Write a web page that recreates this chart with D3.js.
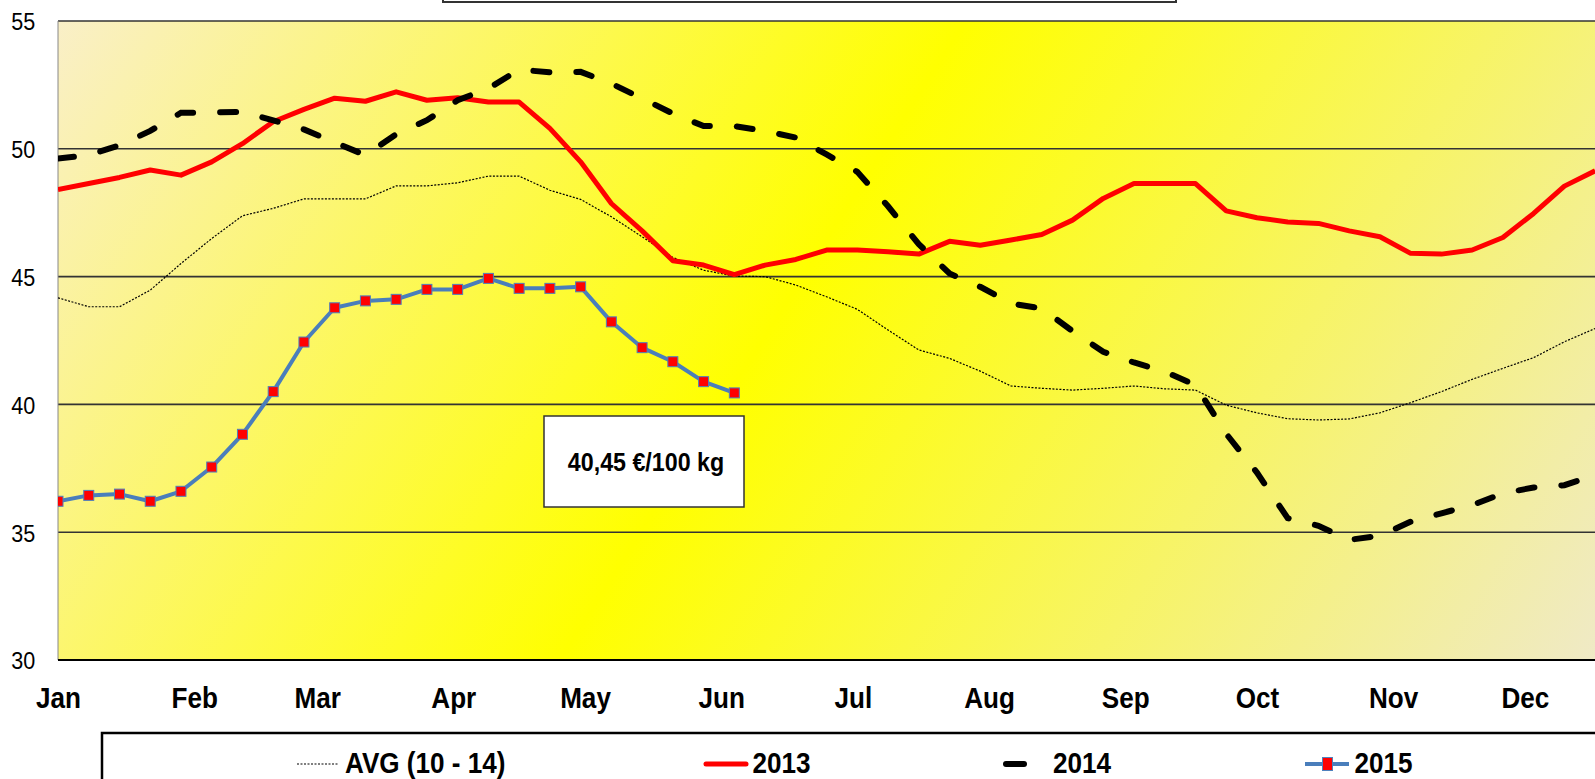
<!DOCTYPE html>
<html>
<head>
<meta charset="utf-8">
<script src="https://cdn.jsdelivr.net/npm/d3@7"></script>
<style>
  body { margin: 0; background: #fff; }
  svg text { font-family: "Liberation Sans", Arial, sans-serif; fill: #000; }
</style>
</head>
<body>
<script>
// weekly prices, week 0 = 1 Jan
const avg = [44.17, 43.82, 43.82, 44.47, 45.51, 46.49, 47.38, 47.67, 48.04, 48.04,
  48.04, 48.55, 48.55, 48.67, 48.93, 48.93, 48.38, 48.02, 47.34, 46.56,
  45.75, 45.25, 45.02, 45.0, 44.67, 44.21, 43.72, 42.91, 42.13, 41.8,
  41.3, 40.72, 40.63, 40.56, 40.63, 40.72, 40.61, 40.56, 39.97, 39.67,
  39.44, 39.39, 39.43, 39.67, 40.07, 40.5, 40.98, 41.41, 41.83, 42.45, 42.97];
const y2013 = [48.41, 48.64, 48.88, 49.17, 48.97, 49.49, 50.2, 51.06, 51.54, 51.98,
  51.86, 52.23, 51.9, 52.0, 51.83, 51.83, 50.8, 49.49, 47.86, 46.79,
  45.62, 45.45, 45.08, 45.45, 45.67, 46.04, 46.04, 45.97, 45.88, 46.38,
  46.23, 46.43, 46.65, 47.21, 48.06, 48.64, 48.64, 48.64, 47.57, 47.3,
  47.14, 47.08, 46.79, 46.56, 45.91, 45.88, 46.04, 46.53, 47.47, 48.54, 49.14];
const y2014 = [49.62, 49.75, 50.14, 50.7, 51.41, 51.42, 51.45, 51.11, 50.76, 50.25,
  49.75, 50.57, 51.12, 51.9, 52.36, 53.1, 52.99, 53.01, 52.55, 51.97,
  51.38, 50.89, 50.89, 50.7, 50.44, 49.78, 49.1, 47.75, 46.27, 45.12,
  44.6, 43.95, 43.75, 42.87, 42.06, 41.64, 41.28, 40.76, 38.85, 37.33,
  35.55, 35.25, 34.7, 34.86, 35.41, 35.74, 36.06, 36.52, 36.75, 36.84, 37.23];
const y2015 = [36.21, 36.44, 36.49, 36.21, 36.6, 37.55, 38.83, 40.5, 42.44, 43.78,
  44.05, 44.11, 44.5, 44.5, 44.93, 44.54, 44.54, 44.6, 43.23, 42.22,
  41.67, 40.89, 40.45];
const seriesNames = ["AVG (10 - 14)", "2013", "2014", "2015"];
const yTicks = [30, 35, 40, 45, 50, 55];
const unit = "€/100 kg";

const W = 1595, H = 779;
const pLeft = 58, pTop = 21, pBottom = 660, pRight = 1661;
const squeeze = "scale(0.9,1)";

const start = new Date(2015, 0, 1);
const x = d3.scaleTime().domain([start, new Date(2016, 0, 1)]).range([pLeft, pRight]);
const y = d3.scaleLinear().domain([30, 55]).range([pBottom, pTop]);
const weekDate = i => d3.timeDay.offset(start, 7 * i);

const svg = d3.select("body").append("svg")
  .attr("width", W)
  .attr("height", H);

const defs = svg.append("defs");
const grad = defs.append("linearGradient")
  .attr("id", "bg")
  .attr("gradientUnits", "userSpaceOnUse")
  .attr("x1", 70).attr("y1", -100)
  .attr("x2", 1523).attr("y2", 822);
grad.append("stop").attr("offset", 0).attr("stop-color", "#f9eed6");
grad.append("stop").attr("offset", 0.477).attr("stop-color", "#ffff00");
grad.append("stop").attr("offset", 1).attr("stop-color", "#efe9cc");

defs.append("clipPath").attr("id", "plotclip")
  .append("rect")
  .attr("x", pLeft).attr("y", pTop)
  .attr("width", pRight - pLeft).attr("height", pBottom - pTop);

// title box (cut off at the top)
svg.append("rect")
  .attr("x", 443).attr("y", -20)
  .attr("width", 733).attr("height", 22)
  .attr("fill", "#fff").attr("stroke", "#333").attr("stroke-width", 2);

// plot background
svg.append("rect")
  .attr("x", pLeft).attr("y", pTop)
  .attr("width", pRight - pLeft).attr("height", pBottom - pTop)
  .attr("fill", "url(#bg)");

// gridlines
svg.append("g").selectAll("line")
  .data(yTicks.filter(d => d > 30))
  .enter().append("line")
  .attr("x1", pLeft).attr("x2", pRight)
  .attr("y1", d => y(d)).attr("y2", d => y(d))
  .attr("stroke", "#333").attr("stroke-width", 1.6);

svg.append("line")
  .attr("x1", pLeft).attr("x2", pLeft).attr("y1", pTop).attr("y2", pBottom)
  .attr("stroke", "#888").attr("stroke-width", 1);
svg.append("line")
  .attr("x1", pLeft).attr("x2", pRight).attr("y1", pBottom).attr("y2", pBottom)
  .attr("stroke", "#000").attr("stroke-width", 1.8);

// y axis labels
const yAxis = svg.append("g")
  .attr("transform", "translate(" + pLeft + ",0)")
  .call(d3.axisLeft(y).tickValues(yTicks).tickSize(0).tickPadding(0));
yAxis.select(".domain").remove();
yAxis.selectAll("text")
  .attr("x", -26)
  .attr("dy", "0.36em")
  .attr("transform", "scale(0.88,1)")
  .style("font-size", "24.5px")
  .style("font-family", "'Liberation Sans', Arial, sans-serif");

// month labels
const xAxis = svg.append("g")
  .attr("transform", "translate(0," + pBottom + ")")
  .call(d3.axisBottom(x)
    .tickValues(d3.timeMonths(start, new Date(2016, 0, 1)))
    .tickFormat(d3.timeFormat("%b"))
    .tickSize(0));
xAxis.select(".domain").remove();
xAxis.selectAll("text")
  .attr("y", 48)
  .attr("dy", 0)
  .attr("transform", "scale(0.9,1)")
  .style("font-size", "29px")
  .style("font-weight", "bold")
  .style("font-family", "'Liberation Sans', Arial, sans-serif");

// series
const line = d3.line()
  .x((d, i) => x(weekDate(i)))
  .y(d => y(d));

const plot = svg.append("g").attr("clip-path", "url(#plotclip)");

plot.append("path").datum(avg)
  .attr("d", line)
  .attr("fill", "none").attr("stroke", "#000")
  .attr("stroke-width", 1.2).attr("stroke-dasharray", "2,1.5");

plot.append("path").datum(y2013)
  .attr("d", line)
  .attr("fill", "none").attr("stroke", "#ff0000")
  .attr("stroke-width", 5).attr("stroke-linejoin", "round");

plot.append("path").datum(y2014)
  .attr("d", line)
  .attr("fill", "none").attr("stroke", "#000")
  .attr("stroke-width", 6).attr("stroke-linecap", "round")
  .attr("stroke-dasharray", "16,27");

plot.append("path").datum(y2015)
  .attr("d", line)
  .attr("fill", "none").attr("stroke", "#4a7ebb")
  .attr("stroke-width", 4).attr("stroke-linejoin", "round");

plot.selectAll(".mk")
  .data(y2015)
  .enter().append("rect")
  .attr("class", "mk")
  .attr("x", (d, i) => x(weekDate(i)) - 5)
  .attr("y", d => y(d) - 5)
  .attr("width", 10).attr("height", 10)
  .attr("fill", "#ff0000").attr("stroke", "#4f81bd").attr("stroke-width", 1);

// last price label
const last = y2015[y2015.length - 1];
svg.append("rect")
  .attr("x", 544).attr("y", 416)
  .attr("width", 200).attr("height", 91)
  .attr("fill", "#fff").attr("stroke", "#333").attr("stroke-width", 1.5);
svg.append("g")
  .attr("transform", "translate(646,471) scale(0.93,1)")
  .append("text")
  .attr("text-anchor", "middle")
  .style("font-size", "25px")
  .style("font-weight", "bold")
  .text(last.toFixed(2).replace(".", ",") + " " + unit);

// legend
svg.append("rect")
  .attr("x", 102).attr("y", 733)
  .attr("width", 1600).attr("height", 100)
  .attr("fill", "#fff").attr("stroke", "#000").attr("stroke-width", 2.5);

const legY = 764;
const lg = svg.append("g");
lg.append("line").attr("x1", 297).attr("x2", 339).attr("y1", legY).attr("y2", legY)
  .attr("stroke", "#000").attr("stroke-width", 1.2).attr("stroke-dasharray", "2,1.5");
lg.append("line").attr("x1", 706).attr("x2", 746).attr("y1", legY).attr("y2", legY)
  .attr("stroke", "#ff0000").attr("stroke-width", 5).attr("stroke-linecap", "round");
lg.append("line").attr("x1", 1006).attr("x2", 1024).attr("y1", legY).attr("y2", legY)
  .attr("stroke", "#000").attr("stroke-width", 6).attr("stroke-linecap", "round");
lg.append("line").attr("x1", 1305).attr("x2", 1349).attr("y1", legY).attr("y2", legY)
  .attr("stroke", "#4a7ebb").attr("stroke-width", 4);
lg.append("rect").attr("x", 1322.5).attr("y", legY - 6.5).attr("width", 10).attr("height", 13)
  .attr("fill", "#ff0000").attr("stroke", "#4f81bd").attr("stroke-width", 1);

const legX = [345, 752.5, 1053, 1354.5];
lg.selectAll(".lt")
  .data(seriesNames)
  .enter().append("g")
  .attr("class", "lt")
  .attr("transform", (d, i) => "translate(" + legX[i] + ",772.5) " + squeeze)
  .append("text")
  .style("font-size", "29px")
  .style("font-weight", "bold")
  .text(d => d);
</script>
</body>
</html>
